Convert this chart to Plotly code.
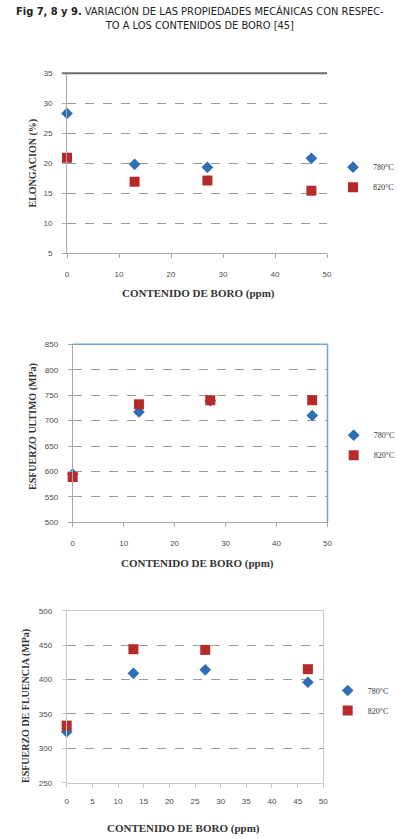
import plotly.graph_objects as go

# ---- data ----
boro = [0, 13, 27, 47]
elong_780 = [28.3, 19.8, 19.3, 20.8]
elong_820 = [20.9, 16.9, 17.1, 15.4]
ult_780 = [595, 717, 739, 710]
ult_820 = [589, 732, 740, 740]
flu_780 = [324, 409, 414, 396]
flu_820 = [333, 444, 443, 415]
series_names = ["780°C", "820°C"]
title_lines = ["<b>Fig 7, 8 y 9.</b> VARIACIÓN DE LAS PROPIEDADES MECÁNICAS CON RESPEC-",
               "TO A LOS CONTENIDOS DE BORO [45]"]
x_title = "CONTENIDO DE BORO (ppm)"
y_titles = ["ELONGACION (%)", "ESFUERZO ULTIMO (MPa)", "ESFUERZO DE FLUENCIA (MPa)"]

W, H = 399, 839
BLUE = "#2f6db5"
RED = "#b52b2b"
SERIF = "Liberation Serif, Times New Roman, serif"
TICKF = dict(family="Liberation Sans, Arial, sans-serif", size=8, color="#4a4a4a")


def px_x(p):
    return p / W


def px_y(p):
    return 1 - p / H


fig = go.Figure()

panels = [
    dict(ys=(elong_780, elong_820), xd=(67, 327), yd=(73.3, 253), yr=(5, 35), dt=5, xdt=10,
         leg=(333, 152.7), xso=9),
    dict(ys=(ult_780, ult_820), xd=(72.7, 327.5), yd=(344.3, 522.3), yr=(500, 850), dt=50, xdt=10,
         leg=(333.7, 420.7), xso=9),
    dict(ys=(flu_780, flu_820), xd=(66.7, 323.3), yd=(610.7, 782.7), yr=(250, 500), dt=50, xdt=5,
         leg=(327.7, 676), xso=7),
]

for i, p in enumerate(panels):
    n = i + 1
    xa = "x" if n == 1 else f"x{n}"
    ya = "y" if n == 1 else f"y{n}"
    lg = "legend" if n == 1 else f"legend{n}"
    fig.add_trace(go.Scatter(x=boro, y=p["ys"][0], mode="markers", name=series_names[0],
                             marker=dict(symbol="diamond", size=9, color=BLUE),
                             xaxis=xa, yaxis=ya, legend=lg, legendgroup=f"a{n}", cliponaxis=False))
    fig.add_trace(go.Scatter(x=boro, y=p["ys"][1], mode="markers", name=series_names[1],
                             marker=dict(symbol="square", size=10, color=RED),
                             xaxis=xa, yaxis=ya, legend=lg, legendgroup=f"b{n}", cliponaxis=False))

layout = dict(width=W, height=H, margin=dict(l=0, r=0, t=0, b=0, autoexpand=False),
              paper_bgcolor="white", plot_bgcolor="white", showlegend=True)

annotations = []
shapes = []
for i, p in enumerate(panels):
    n = i + 1
    xk = "xaxis" if n == 1 else f"xaxis{n}"
    yk = "yaxis" if n == 1 else f"yaxis{n}"
    lk = "legend" if n == 1 else f"legend{n}"
    yn = "y" if n == 1 else f"y{n}"
    mirror = (n == 3)
    lc = "#c8c8c8" if n == 3 else "#a8a8a8"
    layout[xk] = dict(domain=[px_x(p["xd"][0]), px_x(p["xd"][1])], range=[0, 50], dtick=p["xdt"],
                      anchor=yn, showgrid=False, zeroline=False, showline=True, linecolor=lc,
                      linewidth=1, mirror=mirror, ticks="outside", ticklen=4, tickcolor=lc,
                      tickfont=TICKF, ticklabelstandoff=p["xso"], automargin=False)
    layout[yk] = dict(domain=[px_y(p["yd"][1]), px_y(p["yd"][0])], range=list(p["yr"]),
                      dtick=p["dt"],
                      anchor="x" if n == 1 else f"x{n}", showgrid=True, gridcolor="#9a9a9a",
                      griddash="dash", gridwidth=1, zeroline=False, showline=True, linecolor=lc,
                      linewidth=1, mirror=mirror, ticks="outside", ticklen=4, tickcolor=lc,
                      tickfont=TICKF, ticklabelstandoff=8, automargin=False)
    layout[lk] = dict(x=px_x(p["leg"][0]), y=px_y(p["leg"][1]), xanchor="left", yanchor="top",
                      xref="container", yref="container",
                      bgcolor="rgba(0,0,0,0)", font=dict(family=SERIF, size=8, color="#333"),
                      tracegroupgap=1, itemwidth=30)
    # x title
    annotations.append(dict(text=f"<b>{x_title}</b>", xref="paper", yref="paper",
                            x=px_x([198, 197.5, 183][i]), y=px_y([293, 563, 828][i]),
                            showarrow=False, xanchor="center", yanchor="middle",
                            font=dict(family=SERIF, size=11, color="#333")))
    annotations.append(dict(text=f"<b>{y_titles[i]}</b>", xref="paper", yref="paper",
                            x=px_x([32, 33, 26][i]), y=px_y([163.5, 427, 706][i]),
                            showarrow=False, textangle=-90, xanchor="center", yanchor="middle",
                            font=dict(family=SERIF, size=10, color="#333")))

# top border of first panel (dark) and blue frame of second panel
shapes.append(dict(type="line", xref="x domain", yref="y domain", x0=-0.02, x1=1, y0=1, y1=1,
                   line=dict(color="#6e6e6e", width=2)))
shapes.append(dict(type="line", xref="x2 domain", yref="y2 domain", x0=0, x1=1, y0=1, y1=1,
                   line=dict(color="#6fa0d8", width=1.5)))
shapes.append(dict(type="line", xref="x2 domain", yref="y2 domain", x0=1, x1=1, y0=0, y1=1,
                   line=dict(color="#6fa0d8", width=1.5)))

annotations.append(dict(text=title_lines[0] + "<br>" + title_lines[1], xref="paper", yref="paper",
                        x=0.5, y=px_y(3), showarrow=False, xanchor="center", yanchor="top",
                        align="center",
                        font=dict(family="DejaVu Sans Condensed, Liberation Sans Narrow, Roboto Condensed, Liberation Sans, sans-serif",
                                  size=11, color="#222")))

layout["annotations"] = annotations
layout["shapes"] = shapes
fig.update_layout(**layout)
fig.write_html("out.html", config={"displayModeBar": False},
               post_script="document.body.style.margin='0';")
